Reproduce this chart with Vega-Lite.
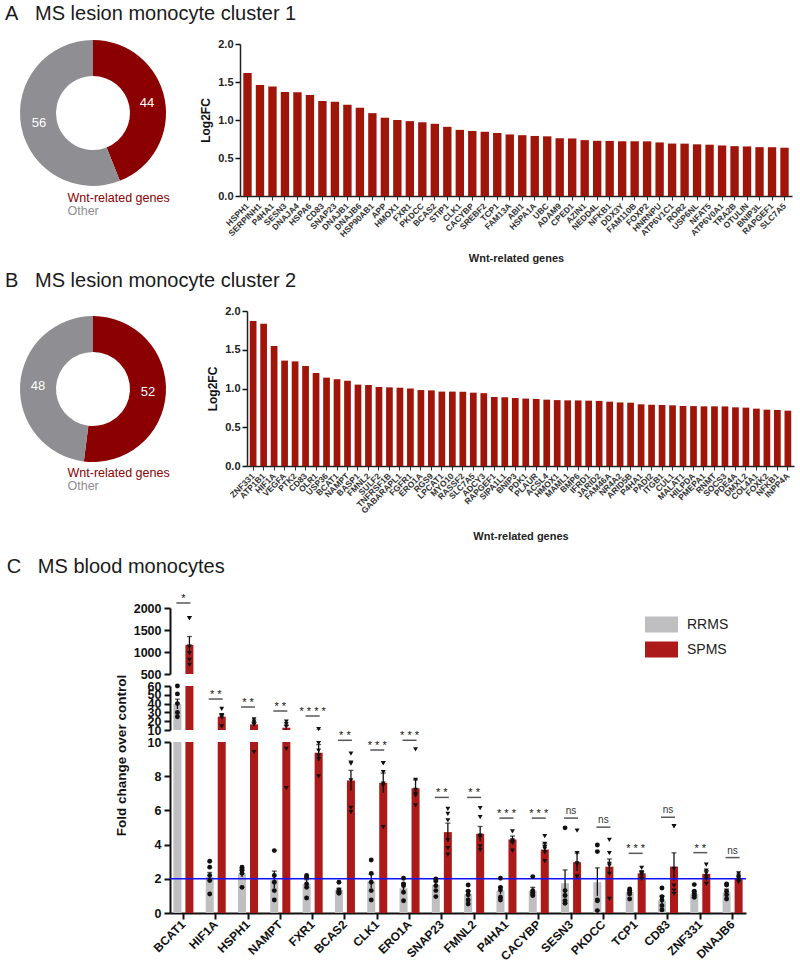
{
"$schema": "https://vega.github.io/schema/vega-lite/v6.json",
"background": "white",
"padding": {"left": 5, "top": 4, "right": 2, "bottom": 0},
"config": {
 "font": "Liberation Sans",
 "view": {"stroke": null},
 "title": {"fontSize": 20, "fontWeight": "normal", "anchor": "start", "color": "#1a1a1a", "font": "Liberation Sans"},
 "axis": {"grid": false, "domainColor": "#111", "tickColor": "#111", "labelColor": "#111", "titleColor": "#111", "labelFontWeight": "bold", "titleFontWeight": "bold", "labelOverlap": false, "labelFont": "Liberation Sans", "titleFont": "Liberation Sans"},
 "axisY": {"domainWidth": 2, "tickWidth": 2, "tickSize": 6, "labelFontSize": 12.5, "labelPadding": 3, "format": "d"},
 "axisX": {"domainWidth": 2, "tickWidth": 2, "tickSize": 6, "labelFontSize": 12, "labelPadding": 3, "labelAngle": -45, "labelAlign": "right", "labelBaseline": "middle"}
},
"datasets": {
 "da": [{"cat": "Wnt-related genes", "n": 44}, {"cat": "Other", "n": 56}],
 "db": [{"cat": "Wnt-related genes", "n": 52}, {"cat": "Other", "n": 48}],
 "a": [
  {"gene":"HSPH1","lfc":1.62},{"gene":"SERPINH1","lfc":1.46},{"gene":"P4HA1","lfc":1.44},{"gene":"SESN3","lfc":1.37},{"gene":"DNAJA4","lfc":1.365},{"gene":"HSPA6","lfc":1.33},{"gene":"CD83","lfc":1.25},{"gene":"SNAP23","lfc":1.24},{"gene":"DNAJB1","lfc":1.2},{"gene":"DNAJB6","lfc":1.16},{"gene":"HSP90AB1","lfc":1.09},{"gene":"APP","lfc":1.03},{"gene":"HMOX1","lfc":1.0},{"gene":"FXR1","lfc":0.985},{"gene":"PKDCC","lfc":0.97},{"gene":"BCAS2","lfc":0.95},{"gene":"STIP1","lfc":0.91},{"gene":"CLK1","lfc":0.87},{"gene":"CACYBP","lfc":0.855},{"gene":"SREBF2","lfc":0.845},{"gene":"TCP1","lfc":0.83},{"gene":"FAM13A","lfc":0.81},{"gene":"ABI1","lfc":0.8},{"gene":"HSPA1A","lfc":0.79},{"gene":"UBC","lfc":0.785},{"gene":"ADAM9","lfc":0.76},{"gene":"CPED1","lfc":0.757},{"gene":"AZIN1","lfc":0.735},{"gene":"NEDD4L","lfc":0.726},{"gene":"NFKB1","lfc":0.725},{"gene":"DDX3Y","lfc":0.72},{"gene":"FAM110B","lfc":0.72},{"gene":"FOXP2","lfc":0.719},{"gene":"HNRNPU","lfc":0.705},{"gene":"ATP6V1C1","lfc":0.69},{"gene":"ROR2","lfc":0.689},{"gene":"USP6NL","lfc":0.68},{"gene":"NFAT5","lfc":0.675},{"gene":"ATP6V0A1","lfc":0.665},{"gene":"TRA2B","lfc":0.656},{"gene":"OTULIN","lfc":0.652},{"gene":"BNIP3L","lfc":0.643},{"gene":"RAPGEF1","lfc":0.642},{"gene":"SLC7A5","lfc":0.635}
 ],
 "b": [
  {"gene":"ZNF331","lfc":1.87},{"gene":"ATP1B1","lfc":1.836},{"gene":"HIF1A","lfc":1.55},{"gene":"VEGFA","lfc":1.36},{"gene":"PTK2","lfc":1.35},{"gene":"CD83","lfc":1.29},{"gene":"OLR1","lfc":1.2},{"gene":"USP36","lfc":1.14},{"gene":"BCAT1","lfc":1.12},{"gene":"NAMPT","lfc":1.1},{"gene":"BASP1","lfc":1.05},{"gene":"FMNL2","lfc":1.045},{"gene":"SULF2","lfc":1.02},{"gene":"TNFRSF1B","lfc":1.015},{"gene":"GABARAPL1","lfc":1.01},{"gene":"FGFR1","lfc":1.0},{"gene":"ERO1A","lfc":0.98},{"gene":"RGS9","lfc":0.976},{"gene":"LPCAT1","lfc":0.96},{"gene":"MYO10","lfc":0.96},{"gene":"RASSF2","lfc":0.958},{"gene":"SLC7A5","lfc":0.946},{"gene":"ADCY3","lfc":0.94},{"gene":"RAPGEF1","lfc":0.89},{"gene":"SIPA1L1","lfc":0.888},{"gene":"BNIP3","lfc":0.877},{"gene":"PDK1","lfc":0.87},{"gene":"PLAUR","lfc":0.865},{"gene":"ACSL4","lfc":0.856},{"gene":"HMOX1","lfc":0.85},{"gene":"MAML1","lfc":0.847},{"gene":"BMP6","lfc":0.846},{"gene":"IFRD1","lfc":0.843},{"gene":"JARID2","lfc":0.84},{"gene":"FAM46A","lfc":0.83},{"gene":"NR4A2","lfc":0.82},{"gene":"ARID5B","lfc":0.817},{"gene":"P4HA1","lfc":0.796},{"gene":"PADI2","lfc":0.79},{"gene":"ITGB1","lfc":0.787},{"gene":"CUL1","lfc":0.783},{"gene":"MALAT1","lfc":0.774},{"gene":"HILPDA","lfc":0.773},{"gene":"PMEPA1","lfc":0.77},{"gene":"RNMT","lfc":0.77},{"gene":"SOCS3","lfc":0.769},{"gene":"PDE4A","lfc":0.757},{"gene":"DMXL2","lfc":0.753},{"gene":"COL4A1","lfc":0.74},{"gene":"FOXK2","lfc":0.727},{"gene":"NFKB1","lfc":0.723},{"gene":"INPP4A","lfc":0.714}
 ],
 "cm": [
  {"gene":"BCAT1","grp":"RRMS","mean":39.5,"lo":34,"hi":45},{"gene":"BCAT1","grp":"SPMS","mean":1162,"lo":972,"hi":1352},
  {"gene":"HIF1A","grp":"RRMS","mean":2.1,"lo":1.83,"hi":2.37},{"gene":"HIF1A","grp":"SPMS","mean":25.2,"lo":22.5,"hi":28},
  {"gene":"HSPH1","grp":"RRMS","mean":2.3,"lo":2.1,"hi":2.5},{"gene":"HSPH1","grp":"SPMS","mean":16.4,"lo":14.5,"hi":18.5},
  {"gene":"NAMPT","grp":"RRMS","mean":1.95,"lo":1.45,"hi":2.45},{"gene":"NAMPT","grp":"SPMS","mean":12.6,"lo":10.2,"hi":15.2},
  {"gene":"FXR1","grp":"RRMS","mean":1.7,"lo":1.45,"hi":1.95},{"gene":"FXR1","grp":"SPMS","mean":9.375,"lo":8.9,"hi":9.85},
  {"gene":"BCAS2","grp":"RRMS","mean":1.35,"lo":1.25,"hi":1.45},{"gene":"BCAS2","grp":"SPMS","mean":7.75,"lo":7.17,"hi":8.34},
  {"gene":"CLK1","grp":"RRMS","mean":1.85,"lo":1.45,"hi":2.25},{"gene":"CLK1","grp":"SPMS","mean":7.62,"lo":7.03,"hi":8.18},
  {"gene":"ERO1A","grp":"RRMS","mean":1.45,"lo":1.2,"hi":1.7},{"gene":"ERO1A","grp":"SPMS","mean":7.3,"lo":6.8,"hi":7.79},
  {"gene":"SNAP23","grp":"RRMS","mean":1.64,"lo":1.45,"hi":1.83},{"gene":"SNAP23","grp":"SPMS","mean":4.73,"lo":4.24,"hi":5.25},
  {"gene":"FMNL2","grp":"RRMS","mean":1.1,"lo":0.9,"hi":1.3},{"gene":"FMNL2","grp":"SPMS","mean":4.63,"lo":4.2,"hi":5.06},
  {"gene":"P4HA1","grp":"RRMS","mean":1.31,"lo":1.1,"hi":1.52},{"gene":"P4HA1","grp":"SPMS","mean":4.3,"lo":4.1,"hi":4.5},
  {"gene":"CACYBP","grp":"RRMS","mean":1.3,"lo":1.1,"hi":1.5},{"gene":"CACYBP","grp":"SPMS","mean":3.71,"lo":3.5,"hi":4.04},
  {"gene":"SESN3","grp":"RRMS","mean":1.74,"lo":0.95,"hi":2.52},{"gene":"SESN3","grp":"SPMS","mean":2.97,"lo":2.45,"hi":3.5},
  {"gene":"PKDCC","grp":"RRMS","mean":1.8,"lo":1.0,"hi":2.64},{"gene":"PKDCC","grp":"SPMS","mean":2.71,"lo":2.3,"hi":3.16},
  {"gene":"TCP1","grp":"RRMS","mean":1.21,"lo":1.1,"hi":1.32},{"gene":"TCP1","grp":"SPMS","mean":2.32,"lo":2.2,"hi":2.45},
  {"gene":"CD83","grp":"RRMS","mean":0.72,"lo":0.45,"hi":1.0},{"gene":"CD83","grp":"SPMS","mean":2.71,"lo":1.9,"hi":3.52},
  {"gene":"ZNF331","grp":"RRMS","mean":1.11,"lo":0.95,"hi":1.27},{"gene":"ZNF331","grp":"SPMS","mean":2.29,"lo":2.1,"hi":2.48},
  {"gene":"DNAJB6","grp":"RRMS","mean":1.21,"lo":1.05,"hi":1.4},{"gene":"DNAJB6","grp":"SPMS","mean":2.05,"lo":1.95,"hi":2.15}
 ],
 "cp": [
  {"gene":"BCAT1","grp":"RRMS","v":[60,51,40,30,25]},{"gene":"BCAT1","grp":"SPMS","v":[1771,1771,1124,971,820,705]},
  {"gene":"HIF1A","grp":"RRMS","v":[3.03,2.68,2.2,1.9,1.11]},{"gene":"HIF1A","grp":"SPMS","v":[34,27,26,24,14]},
  {"gene":"HSPH1","grp":"RRMS","v":[2.68,2.58,2.48,2.32,1.5]},{"gene":"HSPH1","grp":"SPMS","v":[22.1,19.5,17.6,15.7,9.41]},
  {"gene":"NAMPT","grp":"RRMS","v":[3.65,2.19,1.8,1.31,0.76]},{"gene":"NAMPT","grp":"SPMS","v":[19.5,16.8,13.8,9.6,7.3]},
  {"gene":"FXR1","grp":"RRMS","v":[2.19,2.09,1.7,1.5,0.88]},{"gene":"FXR1","grp":"SPMS","v":[11.1,9.94,9.5,9.2,9.0,7.99]},
  {"gene":"BCAS2","grp":"RRMS","v":[1.8,1.35,1.27,1.21,1.15]},{"gene":"BCAS2","grp":"SPMS","v":[9.32,8.8,8.73,7.75,6.15,5.9]},
  {"gene":"CLK1","grp":"RRMS","v":[3.1,2.32,1.8,1.31,0.76]},{"gene":"CLK1","grp":"SPMS","v":[8.77,8.77,8.24,7.56,7.46,5.02]},
  {"gene":"ERO1A","grp":"RRMS","v":[2.03,1.7,1.6,1.21,0.72]},{"gene":"ERO1A","grp":"SPMS","v":[9.57,7.79,7.2,6.97,6.88,6.29]},
  {"gene":"SNAP23","grp":"RRMS","v":[1.99,1.89,1.6,1.31,0.96]},{"gene":"SNAP23","grp":"SPMS","v":[6.09,5.8,5.41,4.24,3.79,3.42]},
  {"gene":"FMNL2","grp":"RRMS","v":[1.64,1.27,1.07,0.76,0.53]},{"gene":"FMNL2","grp":"SPMS","v":[6.13,5.6,4.53,4.43,3.89,3.69]},
  {"gene":"P4HA1","grp":"RRMS","v":[2.03,1.5,1.35,0.92,0.76]},{"gene":"P4HA1","grp":"SPMS","v":[4.77,4.24,4.18,4.12,4.08,3.65]},
  {"gene":"CACYBP","grp":"RRMS","v":[2.13,1.31,1.21,1.11,1.02]},{"gene":"CACYBP","grp":"SPMS","v":[4.49,4.04,3.85,3.75,3.55,3.03]},
  {"gene":"SESN3","grp":"RRMS","v":[4.98,1.31,1.02,0.72,0.57]},{"gene":"SESN3","grp":"SPMS","v":[4.82,3.5,2.9,2.85,2.13,2.13]},
  {"gene":"PKDCC","grp":"RRMS","v":[3.98,3.59,0.76,0.72,0.14]},{"gene":"PKDCC","grp":"SPMS","v":[4.28,3.5,2.87,2.77,2.29,0.82]},
  {"gene":"TCP1","grp":"RRMS","v":[1.41,1.31,1.21,1.11,0.82]},{"gene":"TCP1","grp":"SPMS","v":[2.64,2.38,2.32,2.29,2.19,1.99]},
  {"gene":"CD83","grp":"RRMS","v":[1.46,0.96,0.76,0.43,0.18]},{"gene":"CD83","grp":"SPMS","v":[5.08,5.08,2.58,1.6,1.31,1.11]},
  {"gene":"ZNF331","grp":"RRMS","v":[1.66,1.27,1.15,1.02,0.92]},{"gene":"ZNF331","grp":"SPMS","v":[2.83,2.48,2.32,2.13,1.99,1.7]},
  {"gene":"DNAJB6","grp":"RRMS","v":[1.7,1.64,1.27,1.07,0.82]},{"gene":"DNAJB6","grp":"SPMS","v":[2.32,2.19,2.09,1.99,1.89,1.8]}
 ],
 "cs": [
  {"gene":"BCAT1","line":2114,"label":"*"},{"gene":"HIF1A","line":45.2,"label":"* *"},{"gene":"HSPH1","line":36.1,"label":"* *"},{"gene":"NAMPT","line":31.6,"label":"* *"},{"gene":"FXR1","line":25.9,"label":"* * * *"},{"gene":"BCAS2","line":10.1,"label":"* *"},{"gene":"CLK1","line":9.53,"label":"* * *"},{"gene":"ERO1A","line":10.1,"label":"* * *"},{"gene":"SNAP23","line":6.76,"label":"* *"},{"gene":"FMNL2","line":6.76,"label":"* *"},{"gene":"P4HA1","line":5.55,"label":"* * *"},{"gene":"CACYBP","line":5.55,"label":"* * *"},{"gene":"SESN3","line":5.55,"label":"ns"},{"gene":"PKDCC","line":5.02,"label":"ns"},{"gene":"TCP1","line":3.49,"label":"* * *"},{"gene":"CD83","line":5.6,"label":"ns"},{"gene":"ZNF331","line":3.53,"label":"* *"},{"gene":"DNAJB6","line":3.24,"label":"ns"}
 ]
},
"spacing": 15,
"resolve": {"scale": {"color": "independent"}, "legend": {"color": "independent"}},
"vconcat": [
 {
  "spacing": 8,
  "resolve": {"scale": {"color": "independent"}, "legend": {"color": "independent"}},
  "vconcat": [
   {
    "title": {"text": "A\u00a0\u00a0\u00a0MS lesion monocyte cluster 1", "dx": -15, "offset": 14},
    "bounds": "flush",
    "spacing": 74,
    "resolve": {"scale": {"color": "independent"}, "legend": {"color": "independent"}},
    "hconcat": [
     {
      "width": 146, "height": 138,
      "data": {"name": "da"},
      "layer": [
       {"mark": {"type": "arc", "outerRadius": 73, "innerRadius": 37},
        "encoding": {
         "theta": {"field": "n", "type": "quantitative", "stack": true},
         "order": {"field": "cat", "sort": "descending"},
         "color": {"field": "cat", "type": "nominal", "scale": {"domain": ["Wnt-related genes", "Other"], "range": ["#8b0000", "#8e8e93"]},
          "legend": {"orient": "none", "legendX": 35, "legendY": 148, "title": null, "symbolSize": 0, "symbolStrokeWidth": 0, "symbolOpacity": 0, "labelFontSize": 12.5, "labelOffset": 0, "rowPadding": 0, "padding": 0,
           "encode": {"labels": {"update": {"fill": {"signal": "datum.value === 'Other' ? '#8e8e93' : '#8b0000'"}}}}}}
        }},
       {"mark": {"type": "text", "radius": 55, "color": "white", "fontSize": 13},
        "encoding": {
         "theta": {"field": "n", "type": "quantitative", "stack": true},
         "order": {"field": "cat", "sort": "descending"},
         "detail": {"field": "cat", "type": "nominal"},
         "text": {"field": "n", "type": "quantitative"}
        }}
      ]
     },
     {
      "width": 552, "height": 152,
      "data": {"name": "a"},
      "mark": {"type": "bar", "color": "#a0150a"},
      "encoding": {
       "x": {"field": "gene", "type": "nominal", "sort": null, "scale": {"paddingInner": 0.33, "paddingOuter": 0.265},
        "axis": {"title": "Wnt-related genes", "labelAngle": -45, "labelAlign": "right", "labelBaseline": "middle", "labelFontSize": 8.5, "labelColor": "#333", "labelPadding": 4, "tickSize": 4, "tickWidth": 1, "tickColor": "#333", "domainWidth": 1.5, "domainColor": "#222", "titleFontSize": 11, "titleColor": "#222", "titleY": 62, "titleBaseline": "middle"}},
       "y": {"field": "lfc", "type": "quantitative", "scale": {"domain": [0, 2], "nice": false},
        "axis": {"title": "Log2FC", "values": [0, 0.5, 1, 1.5, 2], "format": ".1f", "labelFontSize": 11, "labelColor": "#222", "titleFontSize": 12, "titleColor": "#111", "titlePadding": 5, "domainWidth": 1.5, "domainColor": "#222", "tickWidth": 1.5, "tickSize": 5, "labelPadding": 2}}
      }
     }
    ]
   },
   {
    "title": {"text": "B\u00a0\u00a0\u00a0MS lesion monocyte cluster 2", "dx": -15, "offset": 14},
    "bounds": "flush",
    "spacing": 81,
    "resolve": {"scale": {"color": "independent"}, "legend": {"color": "independent"}},
    "hconcat": [
     {
      "width": 146, "height": 156,
      "data": {"name": "db"},
      "layer": [
       {"mark": {"type": "arc", "outerRadius": 73, "innerRadius": 37},
        "encoding": {
         "theta": {"field": "n", "type": "quantitative", "stack": true},
         "order": {"field": "cat", "sort": "descending"},
         "color": {"field": "cat", "type": "nominal", "scale": {"domain": ["Wnt-related genes", "Other"], "range": ["#8b0000", "#8e8e93"]},
          "legend": {"orient": "none", "legendX": 35, "legendY": 156, "title": null, "symbolSize": 0, "symbolStrokeWidth": 0, "symbolOpacity": 0, "labelFontSize": 12.5, "labelOffset": 0, "rowPadding": 0, "padding": 0,
           "encode": {"labels": {"update": {"fill": {"signal": "datum.value === 'Other' ? '#8e8e93' : '#8b0000'"}}}}}}
        }},
       {"mark": {"type": "text", "radius": 55, "color": "white", "fontSize": 13},
        "encoding": {
         "theta": {"field": "n", "type": "quantitative", "stack": true},
         "order": {"field": "cat", "sort": "descending"},
         "detail": {"field": "cat", "type": "nominal"},
         "text": {"field": "n", "type": "quantitative"}
        }}
      ]
     },
     {
      "width": 547, "height": 155,
      "data": {"name": "b"},
      "mark": {"type": "bar", "color": "#a0150a"},
      "encoding": {
       "x": {"field": "gene", "type": "nominal", "sort": null, "scale": {"paddingInner": 0.36, "paddingOuter": 0.265},
        "axis": {"title": "Wnt-related genes", "labelAngle": -45, "labelAlign": "right", "labelBaseline": "middle", "labelFontSize": 8.5, "labelColor": "#333", "labelPadding": 4, "tickSize": 4, "tickWidth": 1, "tickColor": "#333", "domainWidth": 1.5, "domainColor": "#222", "titleFontSize": 11, "titleColor": "#222", "titleY": 70, "titleBaseline": "middle"}},
       "y": {"field": "lfc", "type": "quantitative", "scale": {"domain": [0, 2], "nice": false},
        "axis": {"title": "Log2FC", "values": [0, 0.5, 1, 1.5, 2], "format": ".1f", "labelFontSize": 11, "labelColor": "#222", "titleFontSize": 12, "titleColor": "#111", "titlePadding": 5, "domainWidth": 1.5, "domainColor": "#222", "tickWidth": 1.5, "tickSize": 5, "labelPadding": 2}}
      }
     }
    ]
   }
  ]
 },
 {
  "title": {"text": "C\u00a0\u00a0\u00a0MS blood monocytes", "dx": -11, "offset": 16},
  "spacing": 89,
  "resolve": {"scale": {"color": "independent"}, "legend": {"color": "independent"}},
  "hconcat": [
   {"width": 1, "height": 1, "data": {"values": [{}]}, "mark": {"type": "point", "opacity": 0}, "encoding": {}},
   {
    "bounds": "flush",
    "spacing": 12,
    "resolve": {"scale": {"color": "independent"}, "legend": {"color": "independent"}},
    "vconcat": [
     {
      "width": 576, "height": 66,
      "layer": [
       {"data": {"name": "cm"}, "mark": {"type": "bar", "clip": true},
        "encoding": {
         "x": {"field": "gene", "type": "nominal", "scale": {"domain": ["BCAT1","HIF1A","HSPH1","NAMPT","FXR1","BCAS2","CLK1","ERO1A","SNAP23","FMNL2","P4HA1","CACYBP","SESN3","PKDCC","TCP1","CD83","ZNF331","DNAJB6"], "paddingInner": 0.38, "paddingOuter": 0.105}, "axis": null, "title": null},
         "xOffset": {"field": "grp", "type": "nominal", "scale": {"domain": ["RRMS","SPMS"], "paddingInner": 0.333, "paddingOuter": 0}},
         "y": {"field": "mean", "type": "quantitative", "scale": {"domain": [500, 2000], "nice": false, "zero": false}, "axis": {"values": [500, 1000, 1500, 2000]}, "title": null},
         "color": {"field": "grp", "type": "nominal", "scale": {"domain": ["RRMS","SPMS"], "range": ["#bfbfc2","#ad1a1a"]},
          "legend": {"orient": "none", "legendX": 475, "legendY": 0, "title": null, "symbolType": "M-1,-0.485H1V0.485H-1Z", "symbolSize": 1089, "symbolStrokeWidth": 0, "symbolOpacity": 1, "labelFontSize": 14, "labelColor": "#222", "labelOffset": 9, "rowPadding": -6, "padding": 0,
           "encode": {"symbols": {"update": {"fill": {"signal": "datum.value === 'RRMS' ? '#d6d6d6' : '#ad1a1a'"}}}}}}
        }},
       {"data": {"name": "cm"}, "mark": {"type": "rule", "clip": true, "color": "#111", "strokeWidth": 1.3},
        "encoding": {
         "x": {"field": "gene", "type": "nominal", "scale": {"domain": ["BCAT1","HIF1A","HSPH1","NAMPT","FXR1","BCAS2","CLK1","ERO1A","SNAP23","FMNL2","P4HA1","CACYBP","SESN3","PKDCC","TCP1","CD83","ZNF331","DNAJB6"], "paddingInner": 0.38, "paddingOuter": 0.105}, "axis": null, "title": null},
         "xOffset": {"field": "grp", "type": "nominal", "scale": {"domain": ["RRMS","SPMS"], "paddingInner": 0.333, "paddingOuter": 0}},
         "y": {"field": "lo", "type": "quantitative", "scale": {"domain": [500, 2000], "nice": false, "zero": false}, "axis": {"values": [500, 1000, 1500, 2000]}, "title": null},
         "y2": {"field": "hi"}
        }},
       {"data": {"name": "cm"}, "mark": {"type": "tick", "clip": true, "color": "#111", "size": 5, "thickness": 1.3},
        "encoding": {
         "x": {"field": "gene", "type": "nominal", "scale": {"domain": ["BCAT1","HIF1A","HSPH1","NAMPT","FXR1","BCAS2","CLK1","ERO1A","SNAP23","FMNL2","P4HA1","CACYBP","SESN3","PKDCC","TCP1","CD83","ZNF331","DNAJB6"], "paddingInner": 0.38, "paddingOuter": 0.105}, "axis": null, "title": null},
         "xOffset": {"field": "grp", "type": "nominal", "scale": {"domain": ["RRMS","SPMS"], "paddingInner": 0.333, "paddingOuter": 0}},
         "y": {"field": "hi", "type": "quantitative", "scale": {"domain": [500, 2000], "nice": false, "zero": false}, "axis": {"values": [500, 1000, 1500, 2000]}, "title": null}
        }},
       {"data": {"name": "cp"}, "transform": [{"flatten": ["v"]}, {"filter": "datum.v >= 400 && datum.grp == 'RRMS'"}], "mark": {"type": "point", "shape": "circle", "filled": true, "color": "#111", "size": 24, "opacity": 1},
        "encoding": {
         "x": {"field": "gene", "type": "nominal", "scale": {"domain": ["BCAT1","HIF1A","HSPH1","NAMPT","FXR1","BCAS2","CLK1","ERO1A","SNAP23","FMNL2","P4HA1","CACYBP","SESN3","PKDCC","TCP1","CD83","ZNF331","DNAJB6"], "paddingInner": 0.38, "paddingOuter": 0.105}, "axis": null, "title": null},
         "xOffset": {"field": "grp", "type": "nominal", "scale": {"domain": ["RRMS","SPMS"], "paddingInner": 0.333, "paddingOuter": 0}},
         "y": {"field": "v", "type": "quantitative", "scale": {"domain": [500, 2000], "nice": false, "zero": false}, "axis": {"values": [500, 1000, 1500, 2000]}, "title": null}
        }},
       {"data": {"name": "cp"}, "transform": [{"flatten": ["v"]}, {"filter": "datum.v >= 400 && datum.grp == 'SPMS'"}], "mark": {"type": "point", "shape": "triangle-down", "filled": true, "color": "#111", "size": 24, "opacity": 1},
        "encoding": {
         "x": {"field": "gene", "type": "nominal", "scale": {"domain": ["BCAT1","HIF1A","HSPH1","NAMPT","FXR1","BCAS2","CLK1","ERO1A","SNAP23","FMNL2","P4HA1","CACYBP","SESN3","PKDCC","TCP1","CD83","ZNF331","DNAJB6"], "paddingInner": 0.38, "paddingOuter": 0.105}, "axis": null, "title": null},
         "xOffset": {"field": "grp", "type": "nominal", "scale": {"domain": ["RRMS","SPMS"], "paddingInner": 0.333, "paddingOuter": 0}},
         "y": {"field": "v", "type": "quantitative", "scale": {"domain": [500, 2000], "nice": false, "zero": false}, "axis": {"values": [500, 1000, 1500, 2000]}, "title": null}
        }},
       {"data": {"name": "cs"}, "transform": [{"filter": "datum.line >= 400"}], "mark": {"type": "tick", "color": "#111", "size": 14, "thickness": 1.5},
        "encoding": {
         "x": {"field": "gene", "type": "nominal", "scale": {"domain": ["BCAT1","HIF1A","HSPH1","NAMPT","FXR1","BCAS2","CLK1","ERO1A","SNAP23","FMNL2","P4HA1","CACYBP","SESN3","PKDCC","TCP1","CD83","ZNF331","DNAJB6"], "paddingInner": 0.38, "paddingOuter": 0.105}, "axis": null, "title": null},
         "y": {"field": "line", "type": "quantitative", "scale": {"domain": [500, 2000], "nice": false, "zero": false}, "axis": {"values": [500, 1000, 1500, 2000]}, "title": null}
        }},
       {"data": {"name": "cs"}, "transform": [{"filter": "datum.line >= 400"}], "mark": {"type": "text", "fontSize": 11, "dy": -1, "baseline": "alphabetic", "color": "#111"},
        "encoding": {
         "x": {"field": "gene", "type": "nominal", "scale": {"domain": ["BCAT1","HIF1A","HSPH1","NAMPT","FXR1","BCAS2","CLK1","ERO1A","SNAP23","FMNL2","P4HA1","CACYBP","SESN3","PKDCC","TCP1","CD83","ZNF331","DNAJB6"], "paddingInner": 0.38, "paddingOuter": 0.105}, "axis": null, "title": null},
         "y": {"field": "line", "type": "quantitative", "scale": {"domain": [500, 2000], "nice": false, "zero": false}, "axis": {"values": [500, 1000, 1500, 2000]}, "title": null},
         "text": {"field": "label"}
        }}
      ]
     },
     {
      "width": 576, "height": 44,
      "layer": [
       {"data": {"name": "cm"}, "mark": {"type": "bar", "clip": true},
        "encoding": {
         "x": {"field": "gene", "type": "nominal", "scale": {"domain": ["BCAT1","HIF1A","HSPH1","NAMPT","FXR1","BCAS2","CLK1","ERO1A","SNAP23","FMNL2","P4HA1","CACYBP","SESN3","PKDCC","TCP1","CD83","ZNF331","DNAJB6"], "paddingInner": 0.38, "paddingOuter": 0.105}, "axis": null, "title": null},
         "xOffset": {"field": "grp", "type": "nominal", "scale": {"domain": ["RRMS","SPMS"], "paddingInner": 0.333, "paddingOuter": 0}},
         "y": {"field": "mean", "type": "quantitative", "scale": {"domain": [10, 60], "nice": false, "zero": false}, "axis": {"values": [10, 20, 30, 40, 50, 60]}, "title": null},
         "color": {"field": "grp", "type": "nominal", "scale": {"domain": ["RRMS","SPMS"], "range": ["#bfbfc2","#ad1a1a"]}, "legend": null}
        }},
       {"data": {"name": "cm"}, "mark": {"type": "rule", "clip": true, "color": "#111", "strokeWidth": 1.3},
        "encoding": {
         "x": {"field": "gene", "type": "nominal", "scale": {"domain": ["BCAT1","HIF1A","HSPH1","NAMPT","FXR1","BCAS2","CLK1","ERO1A","SNAP23","FMNL2","P4HA1","CACYBP","SESN3","PKDCC","TCP1","CD83","ZNF331","DNAJB6"], "paddingInner": 0.38, "paddingOuter": 0.105}, "axis": null, "title": null},
         "xOffset": {"field": "grp", "type": "nominal", "scale": {"domain": ["RRMS","SPMS"], "paddingInner": 0.333, "paddingOuter": 0}},
         "y": {"field": "lo", "type": "quantitative", "scale": {"domain": [10, 60], "nice": false, "zero": false}, "axis": {"values": [10, 20, 30, 40, 50, 60]}, "title": null},
         "y2": {"field": "hi"}
        }},
       {"data": {"name": "cm"}, "mark": {"type": "tick", "clip": true, "color": "#111", "size": 5, "thickness": 1.3},
        "encoding": {
         "x": {"field": "gene", "type": "nominal", "scale": {"domain": ["BCAT1","HIF1A","HSPH1","NAMPT","FXR1","BCAS2","CLK1","ERO1A","SNAP23","FMNL2","P4HA1","CACYBP","SESN3","PKDCC","TCP1","CD83","ZNF331","DNAJB6"], "paddingInner": 0.38, "paddingOuter": 0.105}, "axis": null, "title": null},
         "xOffset": {"field": "grp", "type": "nominal", "scale": {"domain": ["RRMS","SPMS"], "paddingInner": 0.333, "paddingOuter": 0}},
         "y": {"field": "hi", "type": "quantitative", "scale": {"domain": [10, 60], "nice": false, "zero": false}, "axis": {"values": [10, 20, 30, 40, 50, 60]}, "title": null}
        }},
       {"data": {"name": "cp"}, "transform": [{"flatten": ["v"]}, {"filter": "datum.v >= 10 && datum.v < 400 && datum.grp == 'RRMS'"}], "mark": {"type": "point", "shape": "circle", "filled": true, "color": "#111", "size": 24, "opacity": 1},
        "encoding": {
         "x": {"field": "gene", "type": "nominal", "scale": {"domain": ["BCAT1","HIF1A","HSPH1","NAMPT","FXR1","BCAS2","CLK1","ERO1A","SNAP23","FMNL2","P4HA1","CACYBP","SESN3","PKDCC","TCP1","CD83","ZNF331","DNAJB6"], "paddingInner": 0.38, "paddingOuter": 0.105}, "axis": null, "title": null},
         "xOffset": {"field": "grp", "type": "nominal", "scale": {"domain": ["RRMS","SPMS"], "paddingInner": 0.333, "paddingOuter": 0}},
         "y": {"field": "v", "type": "quantitative", "scale": {"domain": [10, 60], "nice": false, "zero": false}, "axis": {"values": [10, 20, 30, 40, 50, 60]}, "title": null}
        }},
       {"data": {"name": "cp"}, "transform": [{"flatten": ["v"]}, {"filter": "datum.v >= 10 && datum.v < 400 && datum.grp == 'SPMS'"}], "mark": {"type": "point", "shape": "triangle-down", "filled": true, "color": "#111", "size": 24, "opacity": 1},
        "encoding": {
         "x": {"field": "gene", "type": "nominal", "scale": {"domain": ["BCAT1","HIF1A","HSPH1","NAMPT","FXR1","BCAS2","CLK1","ERO1A","SNAP23","FMNL2","P4HA1","CACYBP","SESN3","PKDCC","TCP1","CD83","ZNF331","DNAJB6"], "paddingInner": 0.38, "paddingOuter": 0.105}, "axis": null, "title": null},
         "xOffset": {"field": "grp", "type": "nominal", "scale": {"domain": ["RRMS","SPMS"], "paddingInner": 0.333, "paddingOuter": 0}},
         "y": {"field": "v", "type": "quantitative", "scale": {"domain": [10, 60], "nice": false, "zero": false}, "axis": {"values": [10, 20, 30, 40, 50, 60]}, "title": null}
        }},
       {"data": {"name": "cs"}, "transform": [{"filter": "datum.line >= 11 && datum.line < 400"}], "mark": {"type": "tick", "color": "#111", "size": 14, "thickness": 1.5},
        "encoding": {
         "x": {"field": "gene", "type": "nominal", "scale": {"domain": ["BCAT1","HIF1A","HSPH1","NAMPT","FXR1","BCAS2","CLK1","ERO1A","SNAP23","FMNL2","P4HA1","CACYBP","SESN3","PKDCC","TCP1","CD83","ZNF331","DNAJB6"], "paddingInner": 0.38, "paddingOuter": 0.105}, "axis": null, "title": null},
         "y": {"field": "line", "type": "quantitative", "scale": {"domain": [10, 60], "nice": false, "zero": false}, "axis": {"values": [10, 20, 30, 40, 50, 60]}, "title": null}
        }},
       {"data": {"name": "cs"}, "transform": [{"filter": "datum.line >= 11 && datum.line < 400"}], "mark": {"type": "text", "fontSize": 11, "dy": -1, "baseline": "alphabetic", "color": "#111"},
        "encoding": {
         "x": {"field": "gene", "type": "nominal", "scale": {"domain": ["BCAT1","HIF1A","HSPH1","NAMPT","FXR1","BCAS2","CLK1","ERO1A","SNAP23","FMNL2","P4HA1","CACYBP","SESN3","PKDCC","TCP1","CD83","ZNF331","DNAJB6"], "paddingInner": 0.38, "paddingOuter": 0.105}, "axis": null, "title": null},
         "y": {"field": "line", "type": "quantitative", "scale": {"domain": [10, 60], "nice": false, "zero": false}, "axis": {"values": [10, 20, 30, 40, 50, 60]}, "title": null},
         "text": {"field": "label"}
        }}
      ]
     },
     {
      "width": 576, "height": 171,
      "layer": [
       {"data": {"name": "cm"}, "mark": {"type": "bar", "clip": true},
        "encoding": {
         "x": {"field": "gene", "type": "nominal", "scale": {"domain": ["BCAT1","HIF1A","HSPH1","NAMPT","FXR1","BCAS2","CLK1","ERO1A","SNAP23","FMNL2","P4HA1","CACYBP","SESN3","PKDCC","TCP1","CD83","ZNF331","DNAJB6"], "paddingInner": 0.38, "paddingOuter": 0.105}, "title": null},
         "xOffset": {"field": "grp", "type": "nominal", "scale": {"domain": ["RRMS","SPMS"], "paddingInner": 0.333, "paddingOuter": 0}},
         "y": {"field": "mean", "type": "quantitative", "scale": {"domain": [0, 10], "nice": false, "zero": false}, "axis": {"values": [0, 2, 4, 6, 8, 10], "title": "Fold change over control", "titleFontSize": 13.5, "titleX": -49, "titleY": 13, "titleAngle": 270, "titleAlign": "center", "titleBaseline": "middle"}},
         "color": {"field": "grp", "type": "nominal", "scale": {"domain": ["RRMS","SPMS"], "range": ["#bfbfc2","#ad1a1a"]}, "legend": null}
        }},
       {"data": {"name": "cm"}, "mark": {"type": "rule", "clip": true, "color": "#111", "strokeWidth": 1.3},
        "encoding": {
         "x": {"field": "gene", "type": "nominal", "scale": {"domain": ["BCAT1","HIF1A","HSPH1","NAMPT","FXR1","BCAS2","CLK1","ERO1A","SNAP23","FMNL2","P4HA1","CACYBP","SESN3","PKDCC","TCP1","CD83","ZNF331","DNAJB6"], "paddingInner": 0.38, "paddingOuter": 0.105}, "title": null},
         "xOffset": {"field": "grp", "type": "nominal", "scale": {"domain": ["RRMS","SPMS"], "paddingInner": 0.333, "paddingOuter": 0}},
         "y": {"field": "lo", "type": "quantitative", "scale": {"domain": [0, 10], "nice": false, "zero": false}, "axis": {"values": [0, 2, 4, 6, 8, 10], "title": "Fold change over control", "titleFontSize": 13.5, "titleX": -49, "titleY": 13, "titleAngle": 270, "titleAlign": "center", "titleBaseline": "middle"}},
         "y2": {"field": "hi"}
        }},
       {"data": {"name": "cm"}, "mark": {"type": "tick", "clip": true, "color": "#111", "size": 5, "thickness": 1.3},
        "encoding": {
         "x": {"field": "gene", "type": "nominal", "scale": {"domain": ["BCAT1","HIF1A","HSPH1","NAMPT","FXR1","BCAS2","CLK1","ERO1A","SNAP23","FMNL2","P4HA1","CACYBP","SESN3","PKDCC","TCP1","CD83","ZNF331","DNAJB6"], "paddingInner": 0.38, "paddingOuter": 0.105}, "title": null},
         "xOffset": {"field": "grp", "type": "nominal", "scale": {"domain": ["RRMS","SPMS"], "paddingInner": 0.333, "paddingOuter": 0}},
         "y": {"field": "hi", "type": "quantitative", "scale": {"domain": [0, 10], "nice": false, "zero": false}, "axis": {"values": [0, 2, 4, 6, 8, 10], "title": "Fold change over control", "titleFontSize": 13.5, "titleX": -49, "titleY": 13, "titleAngle": 270, "titleAlign": "center", "titleBaseline": "middle"}}
        }},
       {"data": {"values": [{}]}, "mark": {"type": "rule", "color": "#1010ff", "strokeWidth": 1.6},
        "encoding": {
         "y": {"datum": 2, "type": "quantitative", "scale": {"domain": [0, 10], "nice": false, "zero": false}, "axis": {"values": [0, 2, 4, 6, 8, 10], "title": "Fold change over control", "titleFontSize": 13.5, "titleX": -49, "titleY": 13, "titleAngle": 270, "titleAlign": "center", "titleBaseline": "middle"}}
        }},
       {"data": {"name": "cp"}, "transform": [{"flatten": ["v"]}, {"filter": "datum.v <= 10.3 && datum.grp == 'RRMS'"}], "mark": {"type": "point", "shape": "circle", "filled": true, "color": "#111", "size": 24, "opacity": 1},
        "encoding": {
         "x": {"field": "gene", "type": "nominal", "scale": {"domain": ["BCAT1","HIF1A","HSPH1","NAMPT","FXR1","BCAS2","CLK1","ERO1A","SNAP23","FMNL2","P4HA1","CACYBP","SESN3","PKDCC","TCP1","CD83","ZNF331","DNAJB6"], "paddingInner": 0.38, "paddingOuter": 0.105}, "title": null},
         "xOffset": {"field": "grp", "type": "nominal", "scale": {"domain": ["RRMS","SPMS"], "paddingInner": 0.333, "paddingOuter": 0}},
         "y": {"field": "v", "type": "quantitative", "scale": {"domain": [0, 10], "nice": false, "zero": false}, "axis": {"values": [0, 2, 4, 6, 8, 10], "title": "Fold change over control", "titleFontSize": 13.5, "titleX": -49, "titleY": 13, "titleAngle": 270, "titleAlign": "center", "titleBaseline": "middle"}}
        }},
       {"data": {"name": "cp"}, "transform": [{"flatten": ["v"]}, {"filter": "datum.v <= 10.3 && datum.grp == 'SPMS'"}], "mark": {"type": "point", "shape": "triangle-down", "filled": true, "color": "#111", "size": 24, "opacity": 1},
        "encoding": {
         "x": {"field": "gene", "type": "nominal", "scale": {"domain": ["BCAT1","HIF1A","HSPH1","NAMPT","FXR1","BCAS2","CLK1","ERO1A","SNAP23","FMNL2","P4HA1","CACYBP","SESN3","PKDCC","TCP1","CD83","ZNF331","DNAJB6"], "paddingInner": 0.38, "paddingOuter": 0.105}, "title": null},
         "xOffset": {"field": "grp", "type": "nominal", "scale": {"domain": ["RRMS","SPMS"], "paddingInner": 0.333, "paddingOuter": 0}},
         "y": {"field": "v", "type": "quantitative", "scale": {"domain": [0, 10], "nice": false, "zero": false}, "axis": {"values": [0, 2, 4, 6, 8, 10], "title": "Fold change over control", "titleFontSize": 13.5, "titleX": -49, "titleY": 13, "titleAngle": 270, "titleAlign": "center", "titleBaseline": "middle"}}
        }},
       {"data": {"name": "cs"}, "transform": [{"filter": "datum.line < 11"}], "mark": {"type": "tick", "color": "#111", "size": 14, "thickness": 1.5},
        "encoding": {
         "x": {"field": "gene", "type": "nominal", "scale": {"domain": ["BCAT1","HIF1A","HSPH1","NAMPT","FXR1","BCAS2","CLK1","ERO1A","SNAP23","FMNL2","P4HA1","CACYBP","SESN3","PKDCC","TCP1","CD83","ZNF331","DNAJB6"], "paddingInner": 0.38, "paddingOuter": 0.105}, "title": null},
         "y": {"field": "line", "type": "quantitative", "scale": {"domain": [0, 10], "nice": false, "zero": false}, "axis": {"values": [0, 2, 4, 6, 8, 10], "title": "Fold change over control", "titleFontSize": 13.5, "titleX": -49, "titleY": 13, "titleAngle": 270, "titleAlign": "center", "titleBaseline": "middle"}}
        }},
       {"data": {"name": "cs"}, "transform": [{"filter": "datum.line < 11 && datum.label != 'ns'"}], "mark": {"type": "text", "fontSize": 11, "dy": -1, "baseline": "alphabetic", "color": "#111"},
        "encoding": {
         "x": {"field": "gene", "type": "nominal", "scale": {"domain": ["BCAT1","HIF1A","HSPH1","NAMPT","FXR1","BCAS2","CLK1","ERO1A","SNAP23","FMNL2","P4HA1","CACYBP","SESN3","PKDCC","TCP1","CD83","ZNF331","DNAJB6"], "paddingInner": 0.38, "paddingOuter": 0.105}, "title": null},
         "y": {"field": "line", "type": "quantitative", "scale": {"domain": [0, 10], "nice": false, "zero": false}, "axis": {"values": [0, 2, 4, 6, 8, 10], "title": "Fold change over control", "titleFontSize": 13.5, "titleX": -49, "titleY": 13, "titleAngle": 270, "titleAlign": "center", "titleBaseline": "middle"}},
         "text": {"field": "label"}
        }},
       {"data": {"name": "cs"}, "transform": [{"filter": "datum.line < 11 && datum.label == 'ns'"}], "mark": {"type": "text", "fontSize": 10, "dy": -4, "baseline": "alphabetic", "color": "#333"},
        "encoding": {
         "x": {"field": "gene", "type": "nominal", "scale": {"domain": ["BCAT1","HIF1A","HSPH1","NAMPT","FXR1","BCAS2","CLK1","ERO1A","SNAP23","FMNL2","P4HA1","CACYBP","SESN3","PKDCC","TCP1","CD83","ZNF331","DNAJB6"], "paddingInner": 0.38, "paddingOuter": 0.105}, "title": null},
         "y": {"field": "line", "type": "quantitative", "scale": {"domain": [0, 10], "nice": false, "zero": false}, "axis": {"values": [0, 2, 4, 6, 8, 10], "title": "Fold change over control", "titleFontSize": 13.5, "titleX": -49, "titleY": 13, "titleAngle": 270, "titleAlign": "center", "titleBaseline": "middle"}},
         "text": {"field": "label"}
        }}
      ]
     }
    ]
   }
  ]
 }
]
}
